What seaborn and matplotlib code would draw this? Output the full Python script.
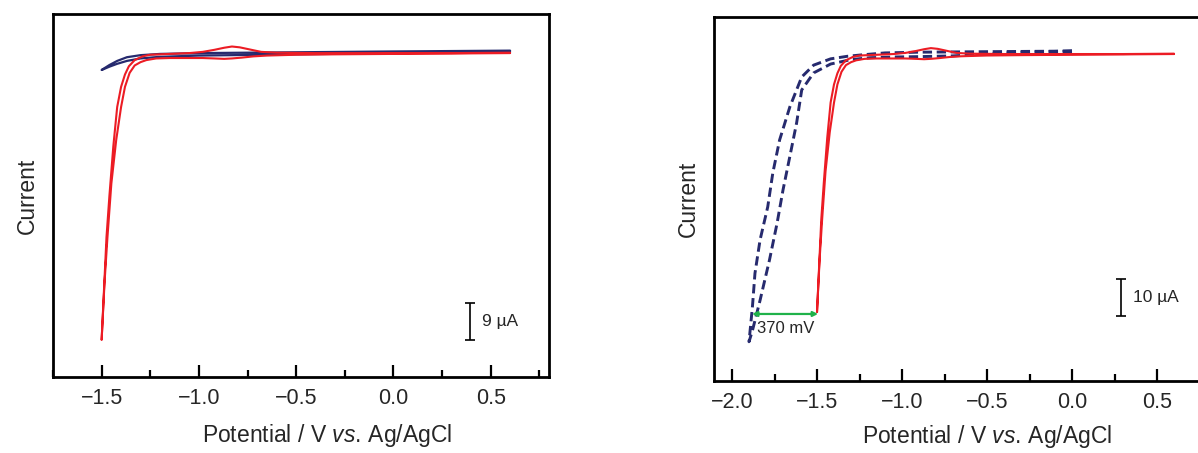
import numpy as np
import pandas as pd
import matplotlib
matplotlib.use("Agg")
import matplotlib.pyplot as plt
import seaborn as sns

# ---------------- data (potential in V, current in µA) ----------------
red_fwd_E = [0.60, 0.30, 0.00, -0.30, -0.50, -0.65, -0.72, -0.78, -0.83, -0.87, -0.92, -0.98,
             -1.05, -1.15, -1.22, -1.27, -1.30, -1.33, -1.356, -1.38, -1.40, -1.425, -1.45,
             -1.47, -1.485, -1.50]
red_fwd_I = [-0.3, -0.4, -0.5, -0.6, -0.7, -0.9, -1.1, -1.4, -1.6, -1.7, -1.6, -1.5,
             -1.5, -1.5, -1.6, -2.0, -2.5, -3.3, -5.1, -8.5, -13.4, -21.4, -32.0,
             -45.0, -56.0, -70.0]
red_rev_E = [-1.50, -1.49, -1.475, -1.46, -1.44, -1.42, -1.40, -1.38, -1.36, -1.33, -1.29,
             -1.25, -1.15, -1.05, -0.98, -0.92, -0.87, -0.83, -0.79, -0.74, -0.68, -0.60,
             -0.40, 0.00, 0.30, 0.60]
red_rev_I = [-70.0, -60.0, -45.0, -35.0, -23.0, -13.4, -8.5, -5.5, -3.5, -2.0, -1.1,
             -0.7, -0.5, -0.3, 0.0, 0.5, 1.0, 1.3, 1.1, 0.6, 0.0, -0.2,
             -0.3, -0.3, -0.3, -0.2]

blue_fwd_E = [0.60, 0.00, -0.50, -1.00, -1.20, -1.30, -1.37, -1.42, -1.46, -1.50]
blue_fwd_I = [0.0, -0.3, -0.6, -0.9, -1.2, -1.6, -2.2, -2.9, -3.6, -4.4]
blue_rev_E = [-1.50, -1.46, -1.42, -1.37, -1.30, -1.20, -1.00, -0.50, 0.00, 0.60]
blue_rev_I = [-4.4, -3.2, -2.2, -1.3, -0.8, -0.5, -0.3, -0.1, 0.1, 0.3]

dash_fwd_E = [0.00, -0.30, -0.50, -0.70, -0.90, -1.05, -1.19, -1.30, -1.42, -1.52, -1.59,
              -1.62, -1.66, -1.70, -1.735, -1.78, -1.835, -1.88, -1.90]
dash_fwd_I = [0.5, 0.2, -0.3, -0.8, -1.0, -1.1, -1.3, -1.8, -3.0, -5.4, -10.0,
              -18.9, -28.0, -37.0, -46.0, -56.0, -66.8, -75.0, -78.0]
dash_rev_E = [-1.90, -1.88, -1.865, -1.835, -1.79, -1.76, -1.72, -1.66, -1.59, -1.52,
              -1.42, -1.32, -1.23, -1.10, -0.90, -0.60, -0.30, 0.00]
dash_rev_I = [-78.0, -68.6, -59.5, -50.5, -41.6, -32.4, -23.5, -14.6, -6.5, -3.3,
              -1.6, -0.9, -0.5, 0.0, 0.2, 0.3, 0.4, 0.5]

xticks_left = [-1.5, -1.0, -0.5, 0.0, 0.5]
xticks_right = [-2.0, -1.5, -1.0, -0.5, 0.0, 0.5]
xlabel = "Potential / V $\\it{vs.}\\,$Ag/AgCl"
ylabel = "Current"
scale_left = 9      # µA
scale_right = 10    # µA
gap_label = "370 mV"
gap_E = [-1.882, -1.494]

RED = "#ec1c24"
NAVY = "#262a6e"
GREEN = "#1fb24a"

# ---------------- styling ----------------
sns.set_theme(style="white")
plt.rcParams["font.family"] = ["Liberation Sans", "DejaVu Sans"]
plt.rcParams["mathtext.fontset"] = "custom"
plt.rcParams["mathtext.it"] = "Liberation Sans:italic"
plt.rcParams["mathtext.rm"] = "Liberation Sans"

fig = plt.figure(figsize=(11.98, 4.53), dpi=100)
axL = fig.add_axes([53 / 1198, 1 - 377 / 453, 496 / 1198, 363 / 453])
axR = fig.add_axes([714 / 1198, 1 - 381 / 453, 494 / 1198, 364 / 453])


def loop_df(E1, I1, E2, I2):
    E = list(E1) + list(E2)[1:]
    I = list(I1) + list(I2)[1:]
    return pd.DataFrame({"E": E, "I": I})


def draw_loop(ax, df, color, lw, dashes=None):
    sns.lineplot(data=df, x="E", y="I", sort=False, estimator=None, ax=ax,
                 color=color, lw=lw, legend=False)
    if dashes is not None:
        ax.lines[-1].set_dashes(dashes)
        ax.lines[-1].set_dash_capstyle("butt")


red_df = loop_df(red_fwd_E, red_fwd_I, red_rev_E, red_rev_I)
blue_df = loop_df(blue_fwd_E, blue_fwd_I, blue_rev_E, blue_rev_I)
dash_df = loop_df(dash_fwd_E, dash_fwd_I, dash_rev_E, dash_rev_I)

# left panel
draw_loop(axL, blue_df, NAVY, 1.6)
draw_loop(axL, red_df, RED, 1.5)
# right panel
draw_loop(axR, dash_df, NAVY, 2.1, dashes=(3.2, 1.6))
draw_loop(axR, red_df, RED, 1.5)

limits = {axL: ((-1.75, 0.80), (-79.0, 9.2), xticks_left, -1.75, -0.125),
          axR: ((-2.106, 0.80), (-88.6, 9.7), xticks_right, -2.0, -0.115)}

for ax, (xl, yl, xt, mstart, ly) in limits.items():
    ax.set_xticks(xt)
    ax.set_xticks(np.arange(mstart, 0.8, 0.25), minor=True)
    ax.set_yticks([])
    ax.set_ylabel(ylabel, fontsize=16.5, labelpad=10)
    ax.set_xlabel(xlabel, fontsize=16.5)
    ax.xaxis.set_label_coords(0.552, ly)
    ax.xaxis.set_major_formatter(matplotlib.ticker.FuncFormatter(
        lambda v, p: f"{v:.1f}".replace("-", "\u2212")))
    ax.tick_params(axis="x", which="major", direction="in", length=9, width=1.6,
                   labelsize=15.5, pad=8, bottom=True, color="black")
    ax.tick_params(axis="x", which="minor", direction="in", length=5, width=1.6,
                   bottom=True, color="black")
    for s in ax.spines.values():
        s.set_linewidth(2.0)
        s.set_color("black")
        s.set_visible(True)
    ax.set_facecolor("white")


# scale bars
def scale_bar(ax, x, ytop, size, text, tx):
    ax.errorbar([x], [ytop - size / 2], yerr=[size / 2], fmt="none", ecolor="black",
                elinewidth=1.2, capsize=3.5, capthick=1.2)
    ax.text(tx, ytop - size / 2, text, fontsize=12.5, va="center", ha="left")


scale_bar(axL, 0.396, -61.0, scale_left, f"{scale_left} µA", 0.455)
scale_bar(axR, 0.288, -61.0, scale_right, f"{scale_right} µA", 0.36)

# potential gap arrow
axR.annotate("", xy=(gap_E[0], -70.5), xytext=(gap_E[1], -70.5),
             arrowprops=dict(arrowstyle="<|-|>", color=GREEN, lw=1.6,
                             mutation_scale=7, shrinkA=0, shrinkB=0))
axR.text(-1.855, -74.5, gap_label, fontsize=12, va="center", ha="left")

for ax, (xl, yl, xt, mstart, ly) in limits.items():
    ax.set_xlim(*xl)
    ax.set_ylim(*yl)

fig.savefig("out.png", dpi=100)
